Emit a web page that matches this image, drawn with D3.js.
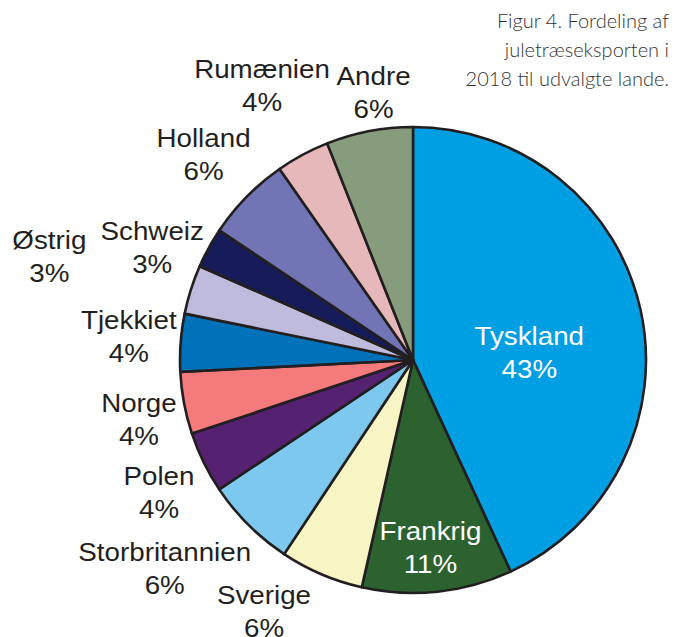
<!doctype html>
<html>
<head>
<meta charset="utf-8">
<script src="https://d3js.org/d3.v7.min.js"></script>
<style>
  body { margin: 0; background: #fff; }
  svg { display: block; }
</style>
</head>
<body>
<svg id="chart" width="689" height="637"></svg>
<script>
// shares (percent), clockwise from 12 o'clock
var countries = ["Tyskland", "Frankrig", "Sverige", "Storbritannien", "Polen", "Norge",
                 "Tjekkiet", "Østrig", "Schweiz", "Holland", "Rumænien", "Andre"];
var shares = [43.1, 10.4, 5.8, 6.3, 4.25, 4.3, 4.0, 3.4, 2.8, 5.9, 3.7, 6.0];
var shareLabels = ["43%", "11%", "6%", "6%", "4%", "4%", "4%", "3%", "3%", "6%", "4%", "6%"];
var sliceColors = ["#009fe3", "#2c6130", "#f8f5c4", "#7dc8ee", "#552171", "#f47a7c",
                   "#0072b9", "#bfbbdd", "#161c5a", "#7275b5", "#e6b8b9", "#879c7d"];
var titleLines = ["Figur 4. Fordeling af", "juletræseksporten i", "2018 til udvalgte lande."];

var svg = d3.select("#chart");
var cx = 413, cy = 360, radius = 233;

var pie = d3.pie().sort(null).value(function (d) { return d; });
var arcs = pie(shares);

var arc = d3.arc().innerRadius(0).outerRadius(radius);

var g = svg.append("g").attr("transform", "translate(" + cx + "," + cy + ")");

g.selectAll("path.slice")
    .data(arcs)
    .enter()
    .append("path")
    .attr("class", "slice")
    .attr("d", arc)
    .attr("fill", function (d, i) { return sliceColors[i]; })
    .attr("stroke", "#231f20")
    .attr("stroke-width", 2.6)
    .attr("stroke-linejoin", "round");

// label placement: two slices labelled inside, the rest outside, nudged like the original
var inside = [true, true, false, false, false, false, false, false, false, false, false, false];
var labelNudge = [[3, 18], [-3, -6], [-37, -10], [-47, 7], [2, 8], [6, 7],
                  [0, -2], [-92, -17], [-11, 25], [-6, -5], [-16, -23], [14, 13]];

function labelPos(d, i) {
    var r = inside[i] ? (i == 0 ? 116 : 195) : 285;
    var a = (d.startAngle + d.endAngle) / 2;
    return [Math.sin(a) * r + labelNudge[i][0], -Math.cos(a) * r + labelNudge[i][1]];
}

var labels = g.selectAll("g.label")
    .data(arcs)
    .enter()
    .append("g")
    .attr("class", "label")
    .attr("transform", function (d, i) {
        var p = labelPos(d, i);
        return "translate(" + p[0] + "," + p[1] + ") scale(1.11,1)";
    })
    .style("font-family", "'Liberation Sans', Arial, sans-serif")
    .style("font-size", "25px")
    .attr("text-anchor", "middle")
    .attr("fill", function (d, i) { return inside[i] ? "#ffffff" : "#231f20"; });

labels.append("text")
    .attr("y", -8)
    .text(function (d, i) { return countries[i]; });

labels.append("text")
    .attr("y", 25)
    .text(function (d, i) { return shareLabels[i]; });

svg.append("g")
    .selectAll("text")
    .data(titleLines)
    .enter()
    .append("text")
    .attr("x", 669)
    .attr("y", function (d, i) { return 28 + i * 29; })
    .attr("text-anchor", "end")
    .style("font-family", "Lato, sans-serif")
    .style("font-weight", 300)
    .style("font-size", "20px")
    .attr("fill", "#333333")
    .text(function (d) { return d; });
</script>
</body>
</html>
